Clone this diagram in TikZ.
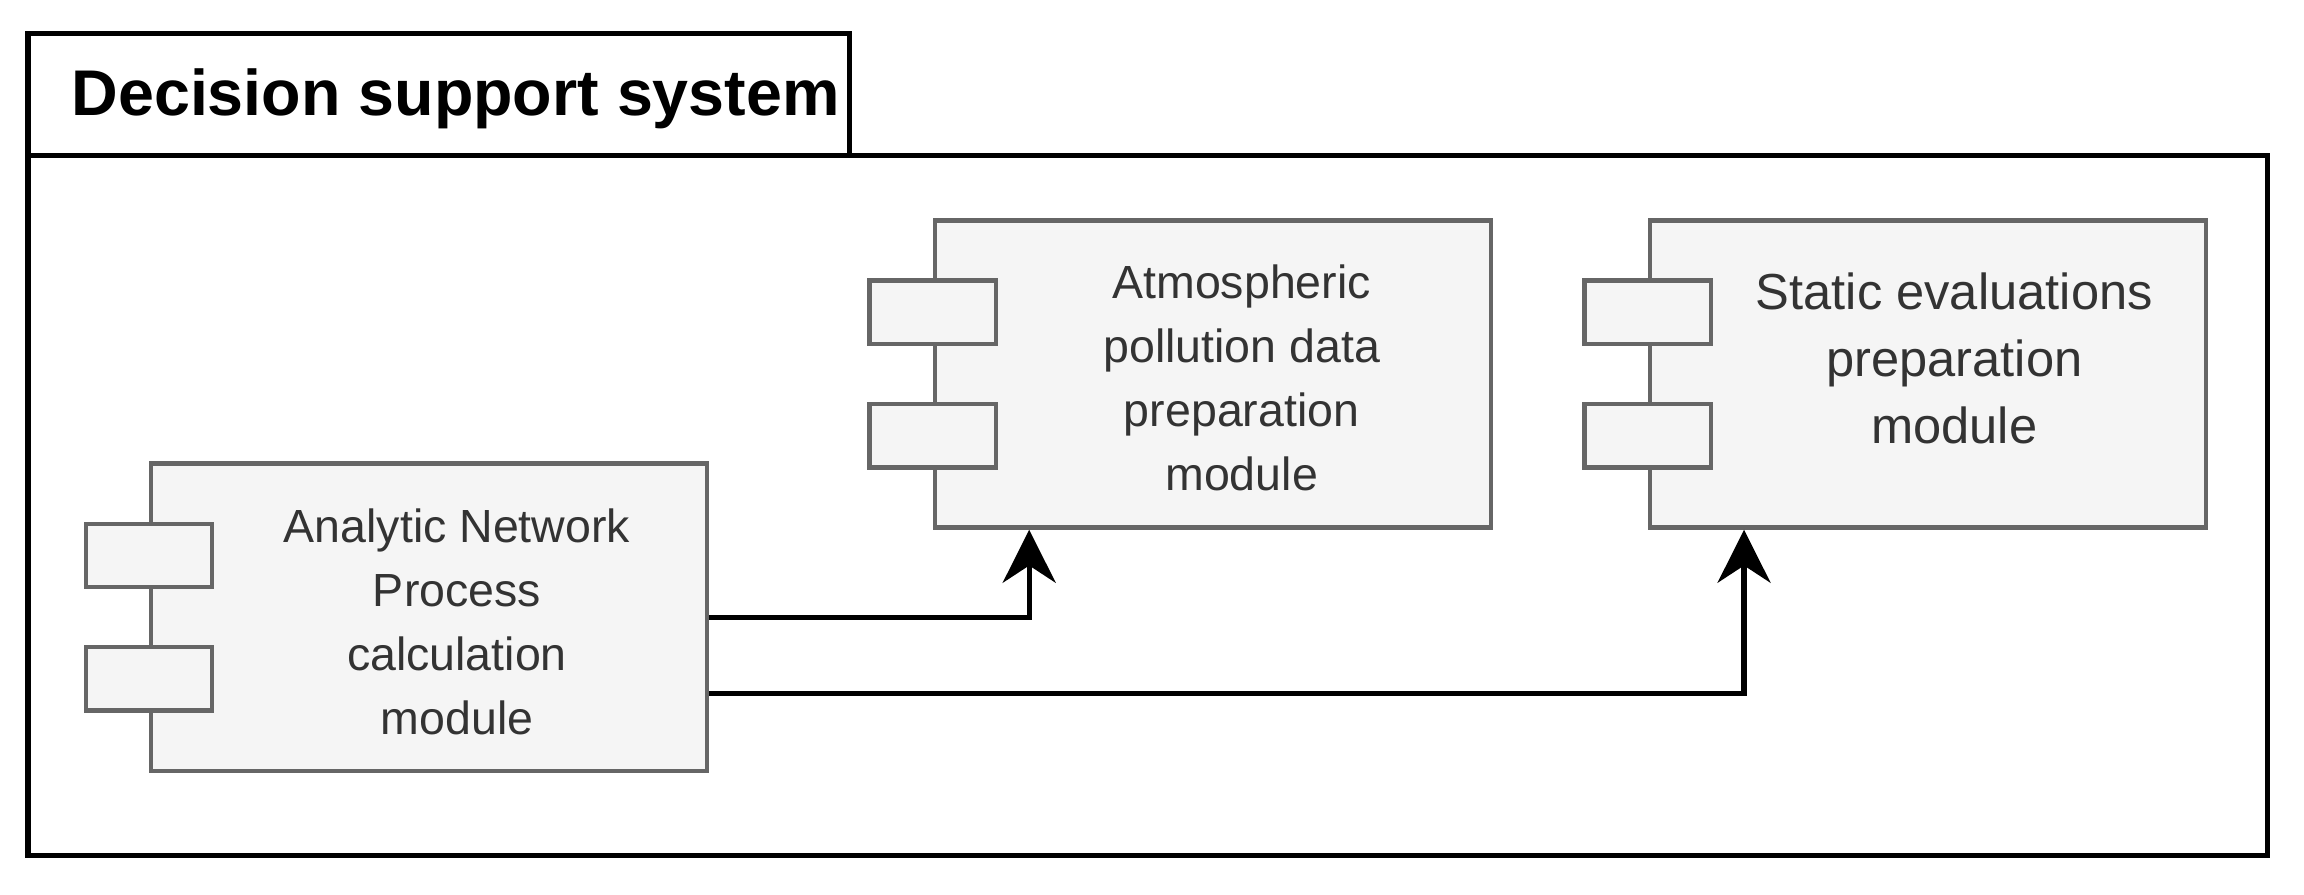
\documentclass[tikz,border=0pt]{standalone}
\usepackage{fontspec}
\setmainfont{Liberation Sans}
\usetikzlibrary{arrows.meta,positioning}
\definecolor{boxfill}{HTML}{F5F5F5}
\definecolor{boxline}{HTML}{666666}
\definecolor{boxtext}{HTML}{333333}
\tikzset{
  module/.style={draw=boxline,fill=boxfill,line width=0.85pt,minimum width=3.78cm,
    minimum height=2.09cm,inner sep=0pt},
  modtext/.style={align=center,text=boxtext,font=\fontsize{9}{12.4}\selectfont,inner sep=0pt},
  port/.style={draw=boxline,fill=boxfill,line width=0.85pt,minimum width=0.86cm,
    minimum height=0.43cm,inner sep=0pt},
  flow/.style={line width=1pt,-{Stealth[length=0.36cm,width=0.36cm]}}
}
\begin{document}
\begin{tikzpicture}[x=0.01cm,y=-0.01cm]
  \useasboundingbox (0,0) rectangle (1568,609);
  % frame
  \draw[line width=1pt] (19,23) rectangle (578,106);
  \draw[line width=1pt] (19,106) rectangle (1543,582);
  \node[anchor=west,inner sep=0pt,font=\fontsize{12.5}{14}\selectfont\bfseries] (title) at (48,67) {Decision support system};
  % modules
  \node[module] (anp) at (292,420) {};
  \node[module] (atm) at (825.5,254.5) {};
  \node[module] (sta) at (1312,254.5) {};
  \foreach \m in {anp,atm,sta}{
    \node[port] (\m p1) at ([yshift=0.42cm]\m.west) {};
    \node[port] (\m p2) at ([yshift=-0.42cm]\m.west) {};
  }
  \node[modtext] (anptxt) at (311,423) {Analytic Network\\Process\\calculation\\module};
  \node[modtext] (atmtxt) at (845,257) {Atmospheric\\pollution data\\preparation\\module};
  \node[modtext,font=\fontsize{9.8}{13}\selectfont] (statxt) at (1330,244) {Static evaluations\\preparation\\module};
  % connectors
  \draw[flow] (anp.east) -| ([xshift=-1.25cm]atm.south);
  \draw[flow] ([yshift=-0.52cm]anp.east) -| ([xshift=-1.25cm]sta.south);
\end{tikzpicture}
\end{document}
